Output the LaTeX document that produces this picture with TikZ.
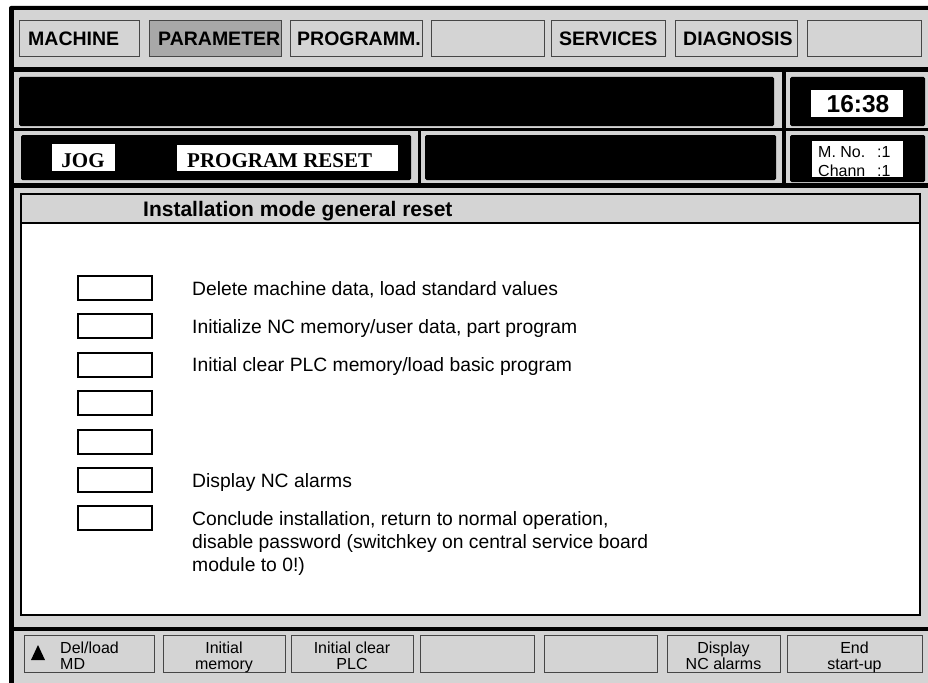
\documentclass[tikz,border=0pt]{standalone}
\usepackage{fontspec}
\setmainfont{Liberation Sans}
\newfontfamily\statusfont{Liberation Serif}
\definecolor{screengray}{RGB}{212,212,212}
\definecolor{activegray}{RGB}{168,168,168}
\definecolor{keyedge}{RGB}{70,70,70}
\tikzset{
  box/.style={anchor=north west, inner sep=0pt, outer sep=0pt},
  topkey/.style={box, draw=keyedge, line width=0.9pt, fill=screengray, minimum height=36pt},
  softkey/.style={box, draw=keyedge, line width=0.9pt, fill=screengray, minimum height=37pt},
  blackfield/.style={box, fill=black, rounded corners=1.5pt},
  whitefield/.style={box, fill=white},
  topkeytext/.style={anchor=base west, inner sep=0pt, font=\bfseries\fontsize{19.5}{19.5}\selectfont},
  sktext/.style={anchor=base, inner sep=0pt, font=\fontsize{16}{16}\selectfont},
  chantext/.style={anchor=base west, inner sep=0pt, font=\fontsize{16}{16}\selectfont},
  optbox/.style={draw=black, line width=2pt, fill=white, minimum width=74pt, minimum height=24pt, inner sep=0pt},
  opttext/.style={anchor=base west, inner sep=0pt, font=\fontsize{19.3}{23}\selectfont},
}
\newcommand\keylabel[4]{%
  \node[sktext] (#1a) at (#2,653) {#3};
  \node[sktext] (#1b) at (#2,669) {#4};}
\begin{document}
\begin{tikzpicture}[x=1pt,y=-1pt]
\useasboundingbox (0,0) rectangle (928,682);
\clip (0,0) rectangle (928,682);

% screen frame and background
\fill[black, rounded corners=2pt] (9,6) rectangle (940,700);
\fill[screengray] (14,10.5) rectangle (940,700);

% horizontal and vertical dividers
\fill (14,67) rectangle (928,72);
\fill (14,128) rectangle (928,131);
\fill (14,183) rectangle (928,188);
\fill (14,627) rectangle (928,631);
\fill (782,72) rectangle (786,188);
\fill (418,131) rectangle (421,183);

% top menu keys
\node[topkey, minimum width=120pt] (k1) at (19,20) {};
\node[topkey, minimum width=132pt, fill=activegray] (k2) at (149,20) {};
\node[topkey, minimum width=132pt] (k3) at (290,20) {};
\node[topkey, minimum width=113pt] (k4) at (431,20) {};
\node[topkey, minimum width=114pt] (k5) at (551,20) {};
\node[topkey, minimum width=122pt] (k6) at (675,20) {};
\node[topkey, minimum width=114pt] (k7) at (807,20) {};
\node[topkeytext] (k1t) at (28,46) {MACHINE};
\node[topkeytext] (k2t) at (158,46) {PARAMETER};
\node[topkeytext] (k3t) at (297,46) {PROGRAMM.};
\node[topkeytext] (k5t) at (559,46) {SERVICES};
\node[topkeytext] (k6t) at (683,46) {DIAGNOSIS};

% status rows
\node[blackfield, minimum width=755pt, minimum height=49pt] (msg) at (19,77) {};
\node[blackfield, minimum width=135pt, minimum height=49pt] (clk) at (790,77) {};
\node[blackfield, minimum width=390pt, minimum height=45pt] (mode) at (21,135) {};
\node[blackfield, minimum width=351pt, minimum height=45pt] (info) at (425,135) {};
\node[blackfield, minimum width=135pt, minimum height=47pt] (chan) at (790,135) {};

\node[whitefield, minimum width=92pt, minimum height=27pt] (time) at (811,90) {};
\node[anchor=center, inner sep=0pt, font=\bfseries\fontsize{24.5}{24.5}\selectfont] (timet) at (858,104.5) {16:38};

\node[whitefield, minimum width=91pt, minimum height=36pt] (mno) at (812,141) {};
\begin{scope}
  \clip (812,141) rectangle (903,177);
  \node[chantext] (mnot) at (818,157) {M. No.};
  \node[chantext] (mnov) at (877,157) {:1};
  \node[chantext] (cht) at (818,176.5) {Chann};
  \node[chantext] (chv) at (877,176.5) {:1};
\end{scope}

\node[whitefield, minimum width=63pt, minimum height=27pt] (jog) at (52,144) {};
\node[anchor=base, inner sep=0pt, font=\statusfont\bfseries\fontsize{21}{21}\selectfont] (jogt) at (83,167) {JOG};
\node[whitefield, minimum width=221pt, minimum height=26pt] (reset) at (177,145) {};
\node[anchor=base west, inner sep=0pt, font=\statusfont\bfseries\fontsize{21}{21}\selectfont] (resett) at (187,167) {PROGRAM RESET};

% main panel
\fill[white] (21,194) rectangle (920,615);
\fill[screengray] (21,194) rectangle (920,223);
\draw[line width=2pt] (21,223) -- (920,223);
\draw[line width=2pt] (21,194) rectangle (920,615);
\node[anchor=base west, inner sep=0pt, font=\bfseries\fontsize{21}{21}\selectfont] (title) at (143,216) {Installation mode general reset};

% option boxes and their descriptions
\node[optbox] (o1) at (115,288.0) {};
\node[optbox] (o2) at (115,326.4) {};
\node[optbox] (o3) at (115,364.8) {};
\node[optbox] (o4) at (115,403.2) {};
\node[optbox] (o5) at (115,441.6) {};
\node[optbox] (o6) at (115,480.0) {};
\node[optbox] (o7) at (115,518.4) {};
\node[opttext] (o1t) at (192,295) {Delete machine data, load standard values};
\node[opttext] (o2t) at (192,333.4) {Initialize NC memory/user data, part program};
\node[opttext] (o3t) at (192,371.8) {Initial clear PLC memory/load basic program};
\node[opttext] (o6t) at (192,487) {Display NC alarms};
\node[opttext] (o7t) at (192,525.4) {Conclude installation, return to normal operation,};
\node[opttext] (o7u) at (192,548.4) {disable password (switchkey on central service board};
\node[opttext] (o7v) at (192,571.4) {module to 0!)};

% softkeys
\node[softkey, minimum width=130pt] (s1) at (24,635) {};
\node[softkey, minimum width=122pt] (s2) at (163,635) {};
\node[softkey, minimum width=122pt] (s3) at (291,635) {};
\node[softkey, minimum width=114pt] (s4) at (420,635) {};
\node[softkey, minimum width=113pt] (s5) at (544,635) {};
\node[softkey, minimum width=113pt] (s6) at (667,635) {};
\node[softkey, minimum width=135pt] (s7) at (787,635) {};

\fill (31,660) -- (45,660) -- (38,645) -- cycle;
\node[sktext, anchor=base west] (s1a) at (60,653) {Del/load};
\node[sktext, anchor=base west] (s1b) at (60,669) {MD};
\keylabel{s2}{224}{Initial}{memory}
\keylabel{s3}{352}{Initial clear}{PLC}
\keylabel{s6}{723.5}{Display}{NC alarms}
\keylabel{s7}{854.5}{End}{start-up}
\end{tikzpicture}
\end{document}
